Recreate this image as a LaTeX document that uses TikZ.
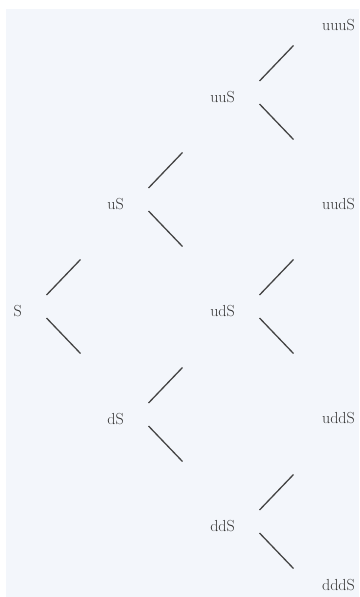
\documentclass[tikz,border=0pt]{standalone}
\usepackage{tikz}

\definecolor{panel}{HTML}{F3F6FB}
\definecolor{ink}{HTML}{333333}
\definecolor{branchink}{HTML}{444444}

\tikzset{
  price/.style={anchor=east, inner sep=0pt, text=ink, font=\fontsize{16}{19}\selectfont},
  branch/.style={draw=branchink, line width=1.3pt},
}

\begin{document}
\begin{tikzpicture}[x=1pt, y=-1pt]
  \useasboundingbox (0,0) rectangle (359,597);
  \fill[panel] (6,9) rectangle (359,597);

  % price states of the three-step binomial tree
  \node[price] (S)    at (22,311)  {S};
  \node[price] (uS)   at (124,204) {uS};
  \node[price] (dS)   at (124,419) {dS};
  \node[price] (uuS)  at (235,97)  {uuS};
  \node[price] (udS)  at (235,311) {udS};
  \node[price] (ddS)  at (235,526) {ddS};
  \node[price] (uuuS) at (355,25)  {uuuS};
  \node[price] (uudS) at (355,204) {uudS};
  \node[price] (uddS) at (355,418) {uddS};
  \node[price] (dddS) at (355,585) {dddS};

  % up and down branches leaving each inner state
  \foreach \n in {S,uS,dS,uuS,udS,ddS} {
    \draw[branch] ([shift={(24.5,-16)}]\n.east) -- ++(34,-35.5);
    \draw[branch] ([shift={(24.5,7)}]\n.east) -- ++(34,35.5);
  }
\end{tikzpicture}
\end{document}
